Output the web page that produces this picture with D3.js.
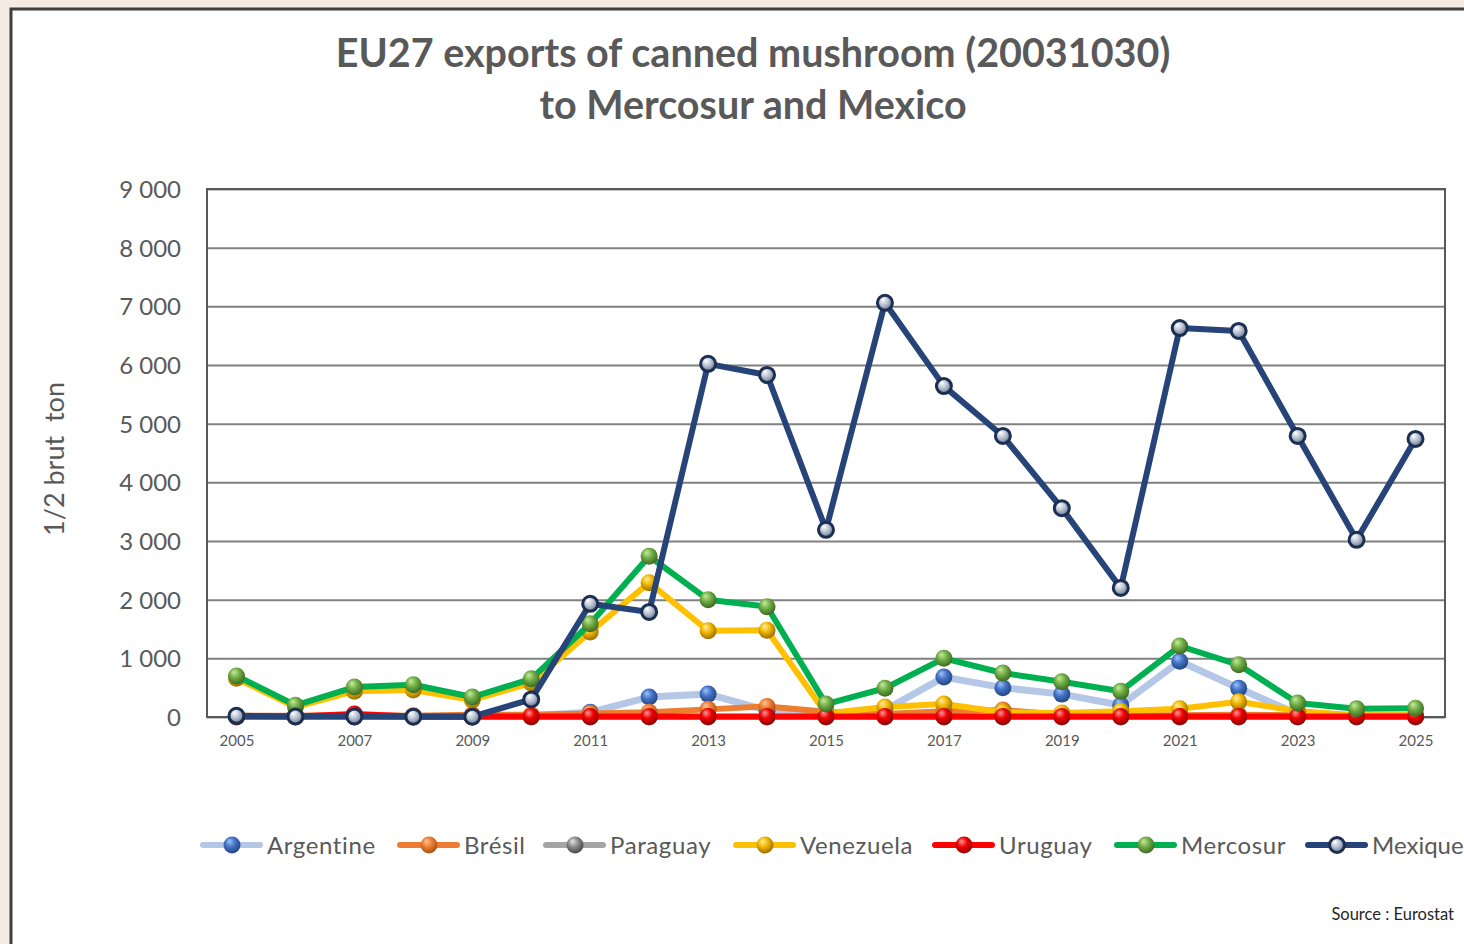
<!DOCTYPE html>
<html>
<head>
<meta charset="utf-8">
<script src="https://cdn.jsdelivr.net/npm/d3@7"></script>
<style>
  html, body { margin: 0; padding: 0; }
  body { width: 1464px; height: 944px; overflow: hidden; background: #f4ece4; }
  svg { display: block; }
  .axis text { font-family: Lato, "Open Sans", sans-serif; fill: #595959; }
  .axis .domain { display: none; }
</style>
</head>
<body>
<div id="chart"></div>
<script>

// Values (1/2 brut ton)
var years = [2005, 2006, 2007, 2008, 2009, 2010, 2011, 2012, 2013, 2014, 2015,
             2016, 2017, 2018, 2019, 2020, 2021, 2022, 2023, 2024, 2025]

var argentine = [10, 10, 10, 10, 10, 20, 80, 340, 390, 110, 50,
                 120, 680, 500, 390, 200, 950, 490, 50, 20, 20]

var bresil = [20, 20, 30, 20, 40, 40, 60, 80, 130, 180, 90,
              50, 100, 120, 40, 30, 30, 40, 30, 20, 20]

var paraguay = [0, 0, 0, 0, 0, 0, 0, 0, 0, 0, 0,
                0, 0, 0, 0, 0, 0, 0, 0, 0, 0]

var venezuela = [660, 170, 440, 460, 290, 580, 1450, 2290, 1470, 1480, 60,
                 170, 220, 80, 70, 100, 140, 260, 100, 30, 30]

var uruguay = [10, 10, 50, 10, 10, 10, 10, 10, 10, 10, 10,
               10, 10, 10, 10, 10, 10, 10, 10, 10, 10]

var mercosur = [700, 200, 510, 550, 340, 650, 1590, 2740, 2000, 1880, 220,
                490, 1000, 750, 600, 440, 1210, 890, 240, 140, 150]

var mexique = [20, 10, 10, 5, 5, 300, 1930, 1790, 6020, 5830, 3190,
               7060, 5640, 4790, 3560, 2200, 6630, 6580, 4790, 3020, 4740]

var yTicks = [0, 1000, 2000, 3000, 4000, 5000, 6000, 7000, 8000, 9000]
var xTickYears = [2005, 2007, 2009, 2011, 2013, 2015, 2017, 2019, 2021, 2023, 2025]

var series = [
  { name: "Argentine", values: argentine, line: "#b4c7e7", ball: ["#9dc3ff", "#4472c4", "#1f3f7a"], width: 7 },
  { name: "Brésil", values: bresil, line: "#ed7d31", ball: ["#ffc49a", "#ed7d31", "#9c4a12"], width: 6 },
  { name: "Paraguay", values: paraguay, line: "#a5a5a5", ball: ["#e6e6e6", "#8c8c8c", "#3d3d3d"], width: 6 },
  { name: "Venezuela", values: venezuela, line: "#ffc000", ball: ["#fff0a0", "#f2b600", "#8a6500"], width: 6 },
  { name: "Uruguay", values: uruguay, line: "#ff0000", ball: ["#ff9a9a", "#ee0000", "#8a0000"], width: 6 },
  { name: "Mercosur", values: mercosur, line: "#00b050", ball: ["#c8ec9a", "#70ad47", "#36601b"], width: 6 },
  { name: "Mexique", values: mexique, line: "#264478", ball: ["#ffffff", "#bcc6d4", "#5f6f88"], width: 6, ring: true }
]

var W = 1464, H = 944

var svg = d3.select("#chart").append("svg")
  .attr("width", W)
  .attr("height", H)

var defs = svg.append("defs")

series.forEach(function(s, i) {
  var g = defs.append("radialGradient")
    .attr("id", "ball" + i)
    .attr("cx", "45%").attr("cy", "40%")
    .attr("fx", "35%").attr("fy", "28%")
    .attr("r", "65%")
  g.append("stop").attr("offset", "0%").attr("stop-color", s.ball[0])
  g.append("stop").attr("offset", "45%").attr("stop-color", s.ball[1])
  g.append("stop").attr("offset", "100%").attr("stop-color", s.ball[2])
})

// chart frame (runs off the right and bottom edges)
svg.append("rect")
  .attr("x", 11)
  .attr("y", 9)
  .attr("width", W)
  .attr("height", H)
  .attr("fill", "#ffffff")
  .attr("stroke", "#3f3f3f")
  .attr("stroke-width", 3)

// title
var title = svg.append("text")
  .attr("text-anchor", "middle")
  .attr("font-family", "Lato, 'Open Sans', sans-serif")
  .attr("font-weight", "bold")
  .attr("font-size", 39.5)
  .attr("fill", "#595959")

title.append("tspan").attr("x", 753).attr("y", 67).text("EU27 exports of canned mushroom (20031030)")
title.append("tspan").attr("x", 753).attr("y", 119).text("to Mercosur and Mexico")

var margin = { top: 189, right: 19, bottom: 227, left: 207 }
var plotW = W - margin.left - margin.right
var plotH = H - margin.top - margin.bottom

var x = d3.scalePoint()
  .domain(years)
  .range([margin.left, margin.left + plotW])
  .padding(0.5)

var y = d3.scaleLinear()
  .domain([0, 9000])
  .range([margin.top + plotH, margin.top])

var fmt = function(d) { return d3.format(",")(d).replace(",", " ") }

var yAxis = svg.append("g")
  .attr("class", "axis y")
  .attr("transform", "translate(" + margin.left + ",0)")
  .call(d3.axisLeft(y).tickValues(yTicks).tickFormat(fmt).tickSize(-plotW).tickPadding(26))

yAxis.selectAll(".tick line")
  .attr("stroke", "#808080")
  .attr("stroke-width", 2)

yAxis.selectAll(".tick text")
  .attr("font-size", 24)
  .attr("dy", "0.36em")

// plot border
svg.append("rect")
  .attr("x", margin.left)
  .attr("y", margin.top)
  .attr("width", plotW)
  .attr("height", plotH)
  .attr("fill", "none")
  .attr("stroke", "#595959")
  .attr("stroke-width", 2)

var xAxis = svg.append("g")
  .attr("class", "axis x")
  .attr("transform", "translate(0," + (margin.top + plotH) + ")")
  .call(d3.axisBottom(x).tickValues(xTickYears).tickSize(0).tickPadding(18))

xAxis.selectAll(".tick text")
  .attr("font-size", 15)

// y axis title
svg.append("text")
  .attr("transform", "translate(64,459) rotate(-90)")
  .attr("text-anchor", "middle")
  .attr("font-family", "Lato, 'Open Sans', sans-serif")
  .attr("font-size", 27)
  .attr("fill", "#595959")
  .attr("xml:space", "preserve")
  .text("1/2 brut  ton")

var line = d3.line()
  .x(function(d, i) { return x(years[i]) })
  .y(function(d) { return y(d) })

var plot = svg.append("g")

series.forEach(function(s, i) {

  plot.append("path")
    .datum(s.values)
    .attr("d", line)
    .attr("fill", "none")
    .attr("stroke", s.line)
    .attr("stroke-width", s.width)
    .attr("stroke-linejoin", "round")
    .attr("stroke-linecap", "round")

  plot.selectAll(".pt" + i)
    .data(s.values)
    .enter()
    .append("circle")
    .attr("class", "pt" + i)
    .attr("cx", function(d, j) { return x(years[j]) })
    .attr("cy", function(d) { return y(d) })
    .attr("r", s.ring ? 7.5 : 8.5)
    .attr("fill", "url(#ball" + i + ")")
    .attr("stroke", s.ring ? "#1c2f52" : "none")
    .attr("stroke-width", s.ring ? 3 : 0)

})

// legend
var legendX = [200, 397, 543, 733, 932, 1114, 1305]

var legend = svg.append("g")

series.forEach(function(s, i) {

  var lg = legend.append("g")
    .attr("transform", "translate(" + legendX[i] + ",845)")

  lg.append("line")
    .attr("x1", 3).attr("x2", 60)
    .attr("y1", 0).attr("y2", 0)
    .attr("stroke", s.line)
    .attr("stroke-width", 6)
    .attr("stroke-linecap", "round")

  lg.append("circle")
    .attr("cx", 32)
    .attr("cy", 0)
    .attr("r", s.ring ? 7.5 : 8.5)
    .attr("fill", "url(#ball" + i + ")")
    .attr("stroke", s.ring ? "#1c2f52" : "none")
    .attr("stroke-width", s.ring ? 3 : 0)

  lg.append("text")
    .attr("x", 67)
    .attr("y", 9)
    .attr("font-family", "Lato, 'Open Sans', sans-serif")
    .attr("font-size", 24)
    .attr("letter-spacing", s.ring ? 0 : 0.6)
    .attr("fill", "#595959")
    .text(s.name)

})

svg.append("text")
  .attr("x", 1454)
  .attr("y", 920)
  .attr("text-anchor", "end")
  .attr("font-family", "Lato, 'Open Sans', sans-serif")
  .attr("font-size", 16.5)
  .attr("fill", "#262626")
  .text("Source : Eurostat")

</script>
</body>
</html>
